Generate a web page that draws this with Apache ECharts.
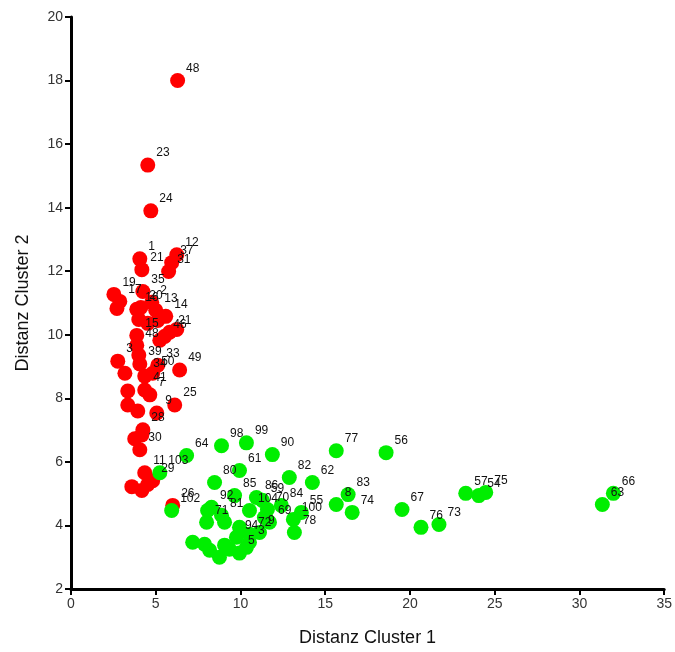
<!DOCTYPE html>
<html>
<head>
<meta charset="utf-8">
<script src="https://cdn.jsdelivr.net/npm/echarts@6/dist/echarts.min.js"></script>
<style>html,body{margin:0;padding:0;background:#fff;}#c{width:675px;height:652px;}</style>
</head>
<body>
<div id="c"></div>
<script>
const xTicks = [0, 5, 10, 15, 20, 25, 30, 35];
const yTicks = [2, 4, 6, 8, 10, 12, 14, 16, 18, 20];

const redX = [6.29,4.53,4.71,4.06,4.18,6.24,5.94,5.76,4.24,2.53,2.88,2.71,3.88,4.0,4.76,4.12,5.0,5.59,5.12,4.53,6.24,5.82,5.53,5.24,3.88,3.88,4.0,2.76,4.06,5.12,4.82,4.35,6.41,3.18,3.35,4.35,4.65,3.35,3.94,5.06,6.12,4.24,4.18,3.76,4.06,4.35,4.82,4.53,3.59,4.18,6.0];
const redY = [18.0,15.34,13.9,12.39,12.05,12.52,12.27,11.99,11.36,11.27,11.05,10.83,10.8,10.48,11.02,10.86,10.77,10.58,10.45,10.36,10.17,10.08,9.95,9.83,9.98,9.67,9.36,9.17,9.08,9.04,8.79,8.7,8.89,8.79,8.23,8.26,8.11,7.79,7.6,7.54,7.79,7.01,6.85,6.73,6.38,5.66,5.41,5.29,5.22,5.1,4.63];
const redLabels = ["48","23","24","1","21","12","37","31","35","19","17","","16","","2","20","13","14","","","","21","46","","15","48","","3","39","33","50","34","49","","","41","7","","","9","25","28","","","30","11","29","","","","26"];

const greenX = [6.82,5.24,8.88,10.35,11.88,9.94,8.47,12.88,14.24,15.65,18.59,9.65,10.94,11.29,11.59,12.41,5.94,8.29,8.88,10.53,13.59,13.12,13.18,15.65,16.35,16.59,19.53,20.65,21.71,23.29,24.06,24.47,32.0,31.35,8.0,7.18,7.88,8.18,8.76,9.06,9.76,10.53,10.35,9.35,11.12,10.53,9.94,11.71,8.06,9.06,11.41,9.94];
const greenY = [6.2,5.66,6.51,6.6,6.23,5.73,5.35,5.51,5.35,6.35,6.29,4.94,4.88,4.79,4.5,4.63,4.47,4.57,4.32,4.47,4.41,4.19,3.78,4.66,4.97,4.41,4.5,3.94,4.03,5.01,4.94,5.04,5.01,4.66,4.1,3.47,3.41,3.22,3.0,3.38,3.63,3.72,3.31,3.25,3.78,3.47,3.13,4.1,4.47,4.1,4.25,3.94];
const greenLabels = ["64","103","98","99","90","61","80","82","62","77","56","85","86","59","70","84","102","92","81","104","55","100","78","8","83","74","67","76","73","57","54","75","66","63","71","","","","","","94","72","","","9","3","5","69","","","",""];

function build(xs, ys, ls) {
  return xs.map((x, i) => [x, ys[i], ls[i]]);
}

const labelStyle = {
  show: true,
  position: 'right',
  distance: 1,
  offset: [0, -12],
  fontFamily: 'Liberation Sans, Arial, sans-serif',
  fontSize: 12,
  color: '#111',
  formatter: p => p.value[2]
};

const axisFont = {fontFamily: 'Liberation Sans, Arial, sans-serif', fontSize: 14, color: '#333'};

const chart = echarts.init(document.getElementById('c'), null, {renderer: 'canvas'});
chart.setOption({
  animation: false,
  backgroundColor: '#fff',
  grid: {left: 71, right: 8, top: 17, bottom: 60, containLabel: false},
  xAxis: {
    type: 'value', min: xTicks[0], max: xTicks[xTicks.length - 1], interval: 5,
    name: 'Distanz Cluster 1', nameLocation: 'middle', nameGap: 40,
    nameTextStyle: {fontFamily: 'Liberation Sans, Arial, sans-serif', fontSize: 18, color: '#111'},
    axisLine: {show: true, lineStyle: {color: '#000', width: 3}},
    axisTick: {show: true, length: 6, lineStyle: {color: '#000', width: 2}},
    axisLabel: Object.assign({margin: 8}, axisFont),
    splitLine: {show: false}
  },
  yAxis: {
    type: 'value', min: yTicks[0], max: yTicks[yTicks.length - 1], interval: 2,
    name: 'Distanz Cluster 2', nameLocation: 'middle', nameGap: 39,
    nameTextStyle: {fontFamily: 'Liberation Sans, Arial, sans-serif', fontSize: 18, color: '#111'},
    axisLine: {show: true, lineStyle: {color: '#000', width: 3}},
    axisTick: {show: true, length: 6, lineStyle: {color: '#000', width: 2}},
    axisLabel: Object.assign({margin: 8}, axisFont),
    splitLine: {show: false}
  },
  series: [
    {
      type: 'scatter', name: 'Cluster 1', symbol: 'circle', symbolSize: 15,
      itemStyle: {color: '#ff0000', opacity: 1}, label: labelStyle,
      data: build(redX, redY, redLabels)
    },
    {
      type: 'scatter', name: 'Cluster 2', symbol: 'circle', symbolSize: 15,
      itemStyle: {color: '#00ee00', opacity: 1}, label: labelStyle,
      data: build(greenX, greenY, greenLabels)
    }
  ]
});
</script>
</body>
</html>
